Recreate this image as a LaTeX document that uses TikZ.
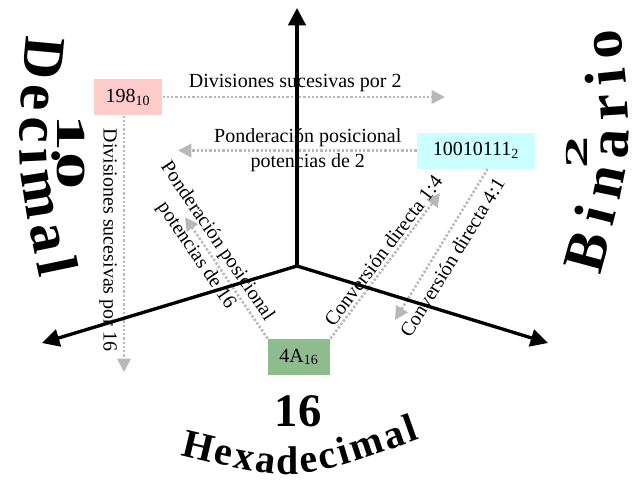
\documentclass[tikz,border=0pt]{standalone}
\usepackage{fontspec}
\setmainfont{Liberation Serif}
\usetikzlibrary{arrows.meta,decorations.text}

\definecolor{decpink}{RGB}{255,204,204}
\definecolor{bincyan}{RGB}{204,255,255}
\definecolor{hexgreen}{RGB}{143,188,143}
\definecolor{convgray}{RGB}{184,184,184}

\newcommand{\bigbold}[1]{\bfseries\fontsize{#1}{#1}\selectfont}

\tikzset{every picture/.style={line width=0.75pt}}
\tikzset{
	numbox/.style={inner sep=0.75pt, minimum height=27pt, font=\fontsize{15}{18}\selectfont},
	conv/.style={draw=convgray, line width=1.9pt, dash pattern=on 1.7pt off 1.5pt, -{Triangle[length=10pt,width=10pt]}},
	axis/.style={line width=2.5pt, -{Triangle[length=13pt,width=13pt]}},
	convlabel/.style={inner sep=0.75pt, font=\fontsize{15}{19}\selectfont, align=center},
	arcword/.style={decorate, decoration={text along path, text align={fit to path}}}
}

\begin{document}
\begin{tikzpicture}[x=0.75pt,y=0.75pt]
				\useasboundingbox (0,0) rectangle (640,480);
				
				% Number boxes
				\node[numbox, fill=decpink, minimum width=51pt] (dec) at (128,383) {198\textsubscript{10}};
				\node[numbox, fill=bincyan, minimum width=88.5pt] (bin) at (476,329.5) {10010111\textsubscript{2}};
				\node[numbox, fill=hexgreen, minimum width=46.5pt] (hex) at (299,123) {4A\textsubscript{16}};
				
				% Arrow ends
				\coordinate (d2tip) at (445,383);
				\coordinate (b10tip) at (178,329.5);
				\coordinate (d16tip) at (124,108);
				\coordinate (h10tip) at (185,263);
				\coordinate (h2tip) at (440,287);
				\coordinate (b16tip) at (395,160);
				
				%Straight Lines
				\draw[conv] (dec) -- (d2tip) node[convlabel, pos=0.47, above=2pt] (d2lbl) {Divisiones sucesivas por 2};
				%Straight Lines
				\draw[conv] (bin) -- (b10tip) node[convlabel, pos=0.456] (b10lbl) {Ponderación posicional\\potencias de 2};
				%Straight Lines
				\draw[conv] (dec.south -| d16tip) -- (d16tip);
				% Text Node
				\node[convlabel, rotate=-90] (d16lbl) at (108,240) {Divisiones sucesivas por 16};
				%Straight Lines
				\draw[conv] (hex.north west) -- (h10tip) node[convlabel, pos=0.74, sloped] (h10lbl) {Ponderación posicional\\potencias de 16};
				%Straight Lines
				\draw[conv] (hex.north east) -- (h2tip) node[convlabel, pos=0.56, sloped, above=1pt] (h2lbl) {Conversión directa 1:4};
				%Straight Lines
				\draw[conv] (bin.-58) -- (b16tip) node[convlabel, pos=0.53, sloped, below=5pt] (b16lbl) {Conversión directa 4:1};
				
				% Base names
				\path[arcword, decoration={text={|\bigbold{44}|Decimal}}] (27,445) .. controls (15.5,319) .. (40,202);
				\path[arcword, decoration={text={|\bigbold{44}|Binario}}] (600,205) .. controls (634,330.5) .. (620,452);
				\path[arcword, decoration={text={|\bigbold{30}|Hexadecimal}}] (180,25) .. controls (297,-3) .. (420,41);
				
				% Text Node
				\node[font=\bigbold{31}, rotate=-90] (decbase) at (71,328) {\scalebox{1.8}[1]{10}};
				% Text Node
				\node[font=\bigbold{24}, rotate=90] (binbase) at (577,328) {\scalebox{2}[1]{2}};
				% Text Node
				\node[font=\bigbold{35}] (hexbase) at (298,69) {16};
				
				% Axes
				\coordinate (origin) at (297,214);
				\coordinate (uptip) at (297,472);
				\coordinate (lefttip) at (42,137);
				\coordinate (righttip) at (548,137);
				\draw[axis] (origin) -- (uptip);
				\draw[axis] (origin) -- (lefttip);
				\draw[axis] (origin) -- (righttip);
				
\end{tikzpicture}
\end{document}
